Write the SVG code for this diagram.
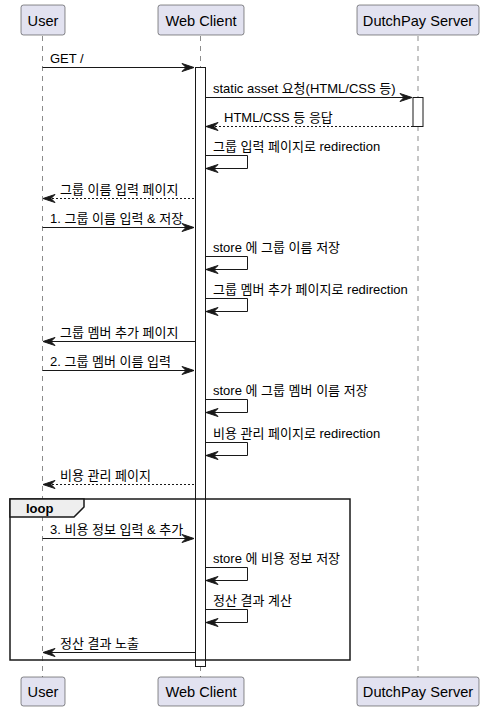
<svg xmlns="http://www.w3.org/2000/svg" width="485" height="711" viewBox="0 0 485 711">
<style>
.part{fill:#E2E2F0;stroke:#181818;stroke-width:0.5}
.ptxt{font-family:"Liberation Sans","Noto Sans CJK KR",sans-serif;font-size:14.6px;fill:#000}
.life{stroke:#181818;stroke-width:0.5;stroke-dasharray:5,5;fill:none}
.act{fill:#FFFFFF;stroke:#181818;stroke-width:1}
.msg{stroke:#181818;stroke-width:1;fill:none}
.dash{stroke-dasharray:2,2}
.head{fill:#181818;stroke:#181818;stroke-width:1}
.mtxt{font-family:"Liberation Sans","Noto Sans CJK KR",sans-serif;font-size:13px;fill:#000}
</style>
<rect width="485" height="711" fill="#FFFFFF"/>
<g id="lifelines">
<line class="life" x1="42.5" y1="36" x2="42.5" y2="677"/>
<line class="life" x1="200.5" y1="36" x2="200.5" y2="677"/>
<line class="life" x1="418" y1="36" x2="418" y2="677"/>
</g>
<g id="User">
<rect class="part" x="21" y="5" width="44" height="30" rx="2.5"/>
<text class="ptxt" x="43" y="26" text-anchor="middle">User</text>
<rect class="part" x="21" y="677" width="44" height="29" rx="2.5"/>
<text class="ptxt" x="43" y="697" text-anchor="middle">User</text>
</g>
<g id="WebClient">
<rect class="part" x="158" y="5" width="86" height="30" rx="2.5"/>
<text class="ptxt" x="201" y="26" text-anchor="middle">Web Client</text>
<rect class="part" x="158" y="677" width="86" height="29" rx="2.5"/>
<text class="ptxt" x="201" y="697" text-anchor="middle">Web Client</text>
<rect class="act" x="195.5" y="67.5" width="10" height="599"/>
</g>
<g id="DutchPayServer">
<rect class="part" x="357" y="5" width="122" height="30" rx="2.5"/>
<text class="ptxt" x="418" y="26" text-anchor="middle">DutchPay Server</text>
<rect class="part" x="357" y="677" width="122" height="29" rx="2.5"/>
<text class="ptxt" x="418" y="697" text-anchor="middle">DutchPay Server</text>
<rect class="act" x="413" y="97.5" width="10" height="29"/>
</g>
<g id="loop">
<rect x="10" y="499" width="340" height="161" fill="none" stroke="#181818" stroke-width="1.5"/>
<polygon points="10,499 84,499 84,507 74,517 10,517" fill="#EEEEEE" stroke="#181818" stroke-width="1.5"/>
<text class="mtxt" x="26" y="513" font-weight="bold">loop</text>
</g>
<g id="connectors">
<line class="msg" x1="42.5" y1="67.5" x2="194" y2="67.5"/>
<polygon class="head" points="182,63.5 194,67.5 182,71.5 186,67.5"/>
<text class="mtxt" x="50" y="63">GET /</text>

<line class="msg" x1="205.5" y1="97.5" x2="412" y2="97.5"/>
<polygon class="head" points="400,93.5 412,97.5 400,101.5 404,97.5"/>
<text class="mtxt" x="213" y="93">static asset 요청(HTML/CSS 등)</text>

<line class="msg dash" x1="207" y1="126.5" x2="413" y2="126.5"/>
<polygon class="head" points="218,122.5 206,126.5 218,130.5 214,126.5"/>
<text class="mtxt" x="224" y="122">HTML/CSS 등 응답</text>

<polyline class="msg" points="205.5,155.5 247.5,155.5 247.5,168.5 207,168.5"/>
<polygon class="head" points="218,164.5 206,168.5 218,172.5 214,168.5"/>
<text class="mtxt" x="213" y="151">그룹 입력 페이지로 redirection</text>

<line class="msg dash" x1="44" y1="198.5" x2="195.5" y2="198.5"/>
<polygon class="head" points="55,194.5 43,198.5 55,202.5 51,198.5"/>
<text class="mtxt" x="60" y="194">그룹 이름 입력 페이지</text>

<line class="msg" x1="42.5" y1="227.5" x2="194" y2="227.5"/>
<polygon class="head" points="182,223.5 194,227.5 182,231.5 186,227.5"/>
<text class="mtxt" x="50" y="223">1. 그룹 이름 입력 &amp; 저장</text>

<polyline class="msg" points="205.5,256.5 247.5,256.5 247.5,269.5 207,269.5"/>
<polygon class="head" points="218,265.5 206,269.5 218,273.5 214,269.5"/>
<text class="mtxt" x="213" y="252">store 에 그룹 이름 저장</text>

<polyline class="msg" points="205.5,298.5 247.5,298.5 247.5,311.5 207,311.5"/>
<polygon class="head" points="218,307.5 206,311.5 218,315.5 214,311.5"/>
<text class="mtxt" x="213" y="294">그룹 멤버 추가 페이지로 redirection</text>

<line class="msg" x1="44" y1="341.5" x2="195.5" y2="341.5"/>
<polygon class="head" points="55,337.5 43,341.5 55,345.5 51,341.5"/>
<text class="mtxt" x="60" y="337">그룹 멤버 추가 페이지</text>

<line class="msg" x1="42.5" y1="370.5" x2="194" y2="370.5"/>
<polygon class="head" points="182,366.5 194,370.5 182,374.5 186,370.5"/>
<text class="mtxt" x="50" y="366">2. 그룹 멤버 이름 입력</text>

<polyline class="msg" points="205.5,399.5 247.5,399.5 247.5,412.5 207,412.5"/>
<polygon class="head" points="218,408.5 206,412.5 218,416.5 214,412.5"/>
<text class="mtxt" x="213" y="395">store 에 그룹 멤버 이름 저장</text>

<polyline class="msg" points="205.5,442.5 247.5,442.5 247.5,455.5 207,455.5"/>
<polygon class="head" points="218,451.5 206,455.5 218,459.5 214,455.5"/>
<text class="mtxt" x="213" y="438">비용 관리 페이지로 redirection</text>

<line class="msg dash" x1="44" y1="484.5" x2="195.5" y2="484.5"/>
<polygon class="head" points="55,480.5 43,484.5 55,488.5 51,484.5"/>
<text class="mtxt" x="60" y="480">비용 관리 페이지</text>

<line class="msg" x1="42.5" y1="538.5" x2="194" y2="538.5"/>
<polygon class="head" points="182,534.5 194,538.5 182,542.5 186,538.5"/>
<text class="mtxt" x="50" y="534">3. 비용 정보 입력 &amp; 추가</text>

<polyline class="msg" points="205.5,567.5 247.5,567.5 247.5,580.5 207,580.5"/>
<polygon class="head" points="218,576.5 206,580.5 218,584.5 214,580.5"/>
<text class="mtxt" x="213" y="563">store 에 비용 정보 저장</text>

<polyline class="msg" points="205.5,609.5 247.5,609.5 247.5,622.5 207,622.5"/>
<polygon class="head" points="218,618.5 206,622.5 218,626.5 214,622.5"/>
<text class="mtxt" x="213" y="605">정산 결과 계산</text>

<line class="msg" x1="44" y1="652.5" x2="195.5" y2="652.5"/>
<polygon class="head" points="55,648.5 43,652.5 55,656.5 51,652.5"/>
<text class="mtxt" x="60" y="648">정산 결과 노출</text>
</g>
</svg>
